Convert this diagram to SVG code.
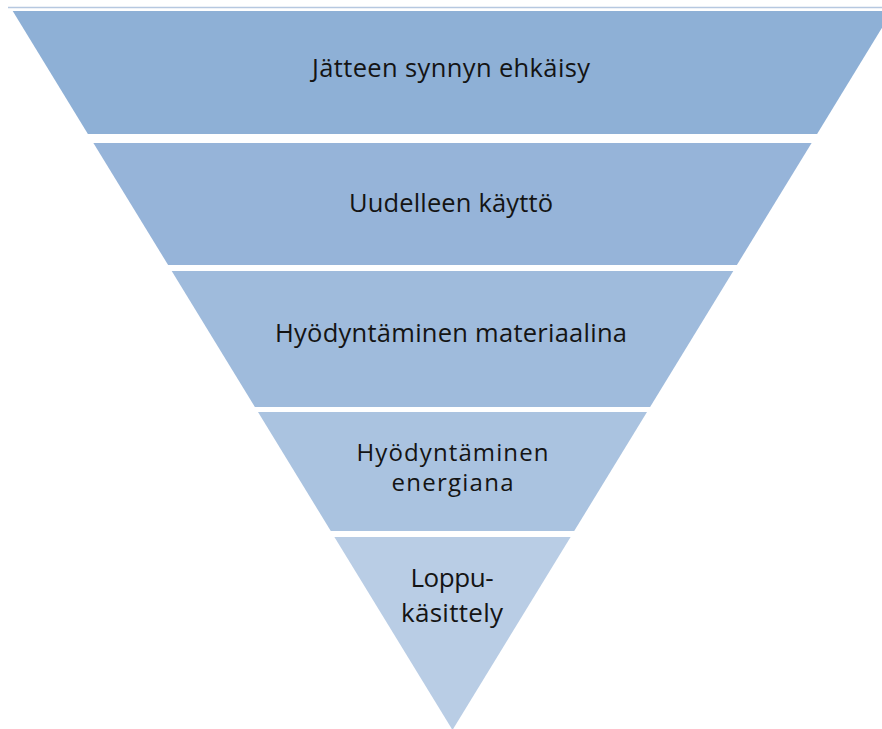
<svg xmlns="http://www.w3.org/2000/svg" width="882" height="729" viewBox="0 0 882 729">
  <style>
    .lbl { font-family: "Open Sans", "Liberation Sans", sans-serif; font-size: 25.5px; fill: #141414; text-anchor: middle; }
  </style>
  <rect x="0" y="0" width="882" height="729" fill="#ffffff"/>
  <!-- rule across the top -->
  <line x1="8" y1="7.5" x2="882" y2="7.5" stroke="#b6c8e0" stroke-width="1.5"/>

  <!-- waste hierarchy: inverted pyramid, five bands -->
  <g id="band-prevention">
    <polygon points="12.7,11 892.3,11 817.1,134 87.9,134" fill="#8eb0d6"/>
    <text class="lbl" x="451" y="76.5" textLength="278" lengthAdjust="spacing">Jätteen synnyn ehkäisy</text>
  </g>
  <g id="band-reuse">
    <polygon points="93.4,143 811.6,143 736.9,265 168.1,265" fill="#96b4d9"/>
    <text class="lbl" x="451" y="212.3" textLength="204" lengthAdjust="spacing">Uudelleen käyttö</text>
  </g>
  <g id="band-material">
    <polygon points="171.7,271 733.3,271 650.1,407 254.9,407" fill="#9fbbdc"/>
    <text class="lbl" x="451" y="342.3" textLength="352" lengthAdjust="spacing">Hyödyntäminen materiaalina</text>
  </g>
  <g id="band-energy">
    <polygon points="258,412 647,412 574.2,531 330.8,531" fill="#aac3e0"/>
    <text class="lbl" style="font-size:24px" x="452.5" y="460.5" textLength="192" lengthAdjust="spacing">Hyödyntäminen</text>
    <text class="lbl" style="font-size:24px" x="452.5" y="490.5" textLength="122" lengthAdjust="spacing">energiana</text>
  </g>
  <g id="band-disposal">
    <polygon points="334.4,537 570.6,537 452.5,730" fill="#b9cde5"/>
    <text class="lbl" style="font-size:26px" x="452" y="587.3" textLength="83" lengthAdjust="spacing">Loppu-</text>
    <text class="lbl" style="font-size:26px" x="452" y="621.7" textLength="102" lengthAdjust="spacing">käsittely</text>
  </g>

  <g id="connectors"></g>
</svg>
